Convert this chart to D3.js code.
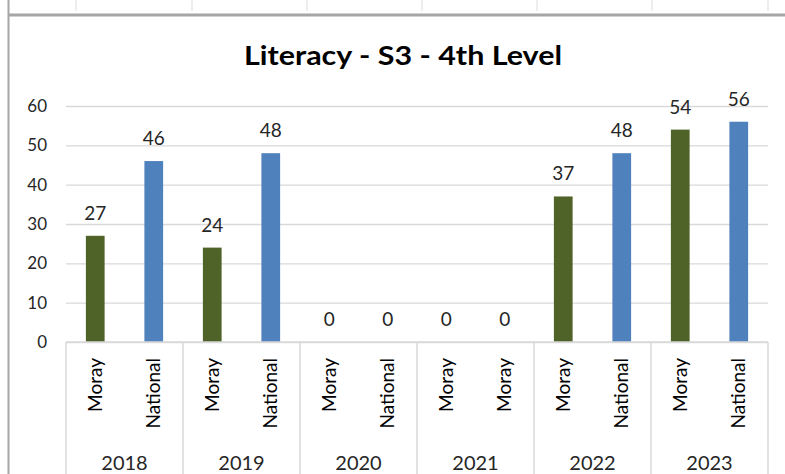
<!DOCTYPE html>
<html>
<head>
<meta charset="utf-8">
<script src="https://cdn.jsdelivr.net/npm/d3@7"></script>
<style>
  html, body { margin: 0; padding: 0; background: #fff; }
  svg { display: block; font-family: Lato, "Open Sans", sans-serif; }
</style>
</head>
<body>
<div id="chart"></div>
<script>
// Literacy - S3 - 4th Level : Moray vs National, by year

const years = ['2018', '2019', '2020', '2021', '2022', '2023'];
const seriesKeys = ['moray', 'national'];
const moray = [27, 24, 0, 0, 37, 54];
const national = [46, 48, 0, 0, 48, 56];
// inner category labels as they appear (2021 repeats "Moray")
const innerLabels = [
    ['Moray', 'National'],
    ['Moray', 'National'],
    ['Moray', 'National'],
    ['Moray', 'Moray'],
    ['Moray', 'National'],
    ['Moray', 'National']
];
const yTicks = [0, 10, 20, 30, 40, 50, 60];

const colors = { moray: '#4f6228', national: '#4f81bd' };

const width = 785, height = 474;
const plot = { left: 66, right: 768, top: 106, bottom: 342 };

const svg = d3.select('#chart').append('svg')
    .attr('width', width)
    .attr('height', height);

// spreadsheet frame around the chart
const cellCols = [76, 192, 307, 422, 537, 652, 768];
svg.selectAll('.cell-line')
    .data(cellCols)
    .enter().append('line')
    .attr('x1', d => d).attr('x2', d => d)
    .attr('y1', 0).attr('y2', 11)
    .attr('stroke', '#dcdcdc')
    .attr('stroke-width', 1);

svg.append('line')
    .attr('x1', 8).attr('x2', width)
    .attr('y1', 15).attr('y2', 15)
    .attr('stroke', '#a6a6a6')
    .attr('stroke-width', 3);

svg.append('line')
    .attr('x1', 8.5).attr('x2', 8.5)
    .attr('y1', 0).attr('y2', height)
    .attr('stroke', '#a6a6a6')
    .attr('stroke-width', 2);

// title - stretched a little to match the original width
svg.append('text')
    .attr('x', 403)
    .attr('y', 65)
    .attr('text-anchor', 'middle')
    .attr('font-size', '27px')
    .attr('font-weight', 'bold')
    .attr('fill', '#000')
    .attr('textLength', 318)
    .attr('lengthAdjust', 'spacingAndGlyphs')
    .text('Literacy - S3 - 4th Level');

// scales
const x0 = d3.scaleBand()
    .domain(years)
    .range([plot.left, plot.right]);

const x1 = d3.scaleBand()
    .domain(seriesKeys)
    .range([0, x0.bandwidth()]);

const y = d3.scaleLinear()
    .domain([0, 60])
    .range([plot.bottom, plot.top]);

const barW = x1.bandwidth() * 0.32;

// y axis with gridlines
const yAxis = svg.append('g')
    .attr('transform', `translate(${plot.left},0)`)
    .call(d3.axisLeft(y)
        .tickValues(yTicks)
        .tickSize(-(plot.right - plot.left))
        .tickPadding(19));

yAxis.select('.domain').remove();
yAxis.selectAll('.tick line')
    .attr('stroke', '#d9d9d9')
    .attr('stroke-width', 1.3);
yAxis.selectAll('.tick text')
    .attr('font-size', '17px')
    .attr('font-family', 'Lato, "Open Sans", sans-serif')
    .attr('fill', '#262626');

// rows of data, one per year
const rows = years.map((yr, i) => ({
    year: yr,
    values: [
        { key: 'moray', value: moray[i], label: innerLabels[i][0] },
        { key: 'national', value: national[i], label: innerLabels[i][1] }
    ]
}));

const groups = svg.selectAll('.year-group')
    .data(rows)
    .enter().append('g')
    .attr('class', 'year-group')
    .attr('transform', d => `translate(${x0(d.year)},0)`);

// bars
groups.selectAll('rect')
    .data(d => d.values)
    .enter().append('rect')
    .attr('x', d => x1(d.key) + (x1.bandwidth() - barW) / 2)
    .attr('y', d => y(d.value))
    .attr('width', barW)
    .attr('height', d => y(0) - y(d.value))
    .attr('fill', d => colors[d.key]);

// value labels
groups.selectAll('.value-label')
    .data(d => d.values)
    .enter().append('text')
    .attr('class', 'value-label')
    .attr('x', d => x1(d.key) + x1.bandwidth() / 2)
    .attr('y', d => y(d.value) - 16)
    .attr('text-anchor', 'middle')
    .attr('font-size', '19px')
    .attr('fill', '#262626')
    .text(d => d.value);

// category axis: baseline and group separators
svg.append('line')
    .attr('x1', plot.left).attr('x2', plot.right)
    .attr('y1', y(0)).attr('y2', y(0))
    .attr('stroke', '#d9d9d9')
    .attr('stroke-width', 1.5);

const bounds = years.map(yr => x0(yr)).concat([plot.right]);
svg.selectAll('.sep')
    .data(bounds)
    .enter().append('line')
    .attr('class', 'sep')
    .attr('x1', d => d).attr('x2', d => d)
    .attr('y1', y(0)).attr('y2', height)
    .attr('stroke', '#d9d9d9')
    .attr('stroke-width', 1.5);

// inner (rotated) category labels
groups.selectAll('.inner-label')
    .data(d => d.values)
    .enter().append('text')
    .attr('class', 'inner-label')
    .attr('transform', d => `translate(${x1(d.key) + x1.bandwidth() / 2},358) rotate(-90)`)
    .attr('dy', '0.35em')
    .attr('text-anchor', 'end')
    .attr('font-size', '19px')
    .attr('fill', '#000')
    .text(d => d.label);

// outer year labels
groups.append('text')
    .attr('x', x0.bandwidth() / 2)
    .attr('y', 470)
    .attr('text-anchor', 'middle')
    .attr('font-size', '20px')
    .attr('fill', '#262626')
    .text(d => d.year);
</script>
</body>
</html>
